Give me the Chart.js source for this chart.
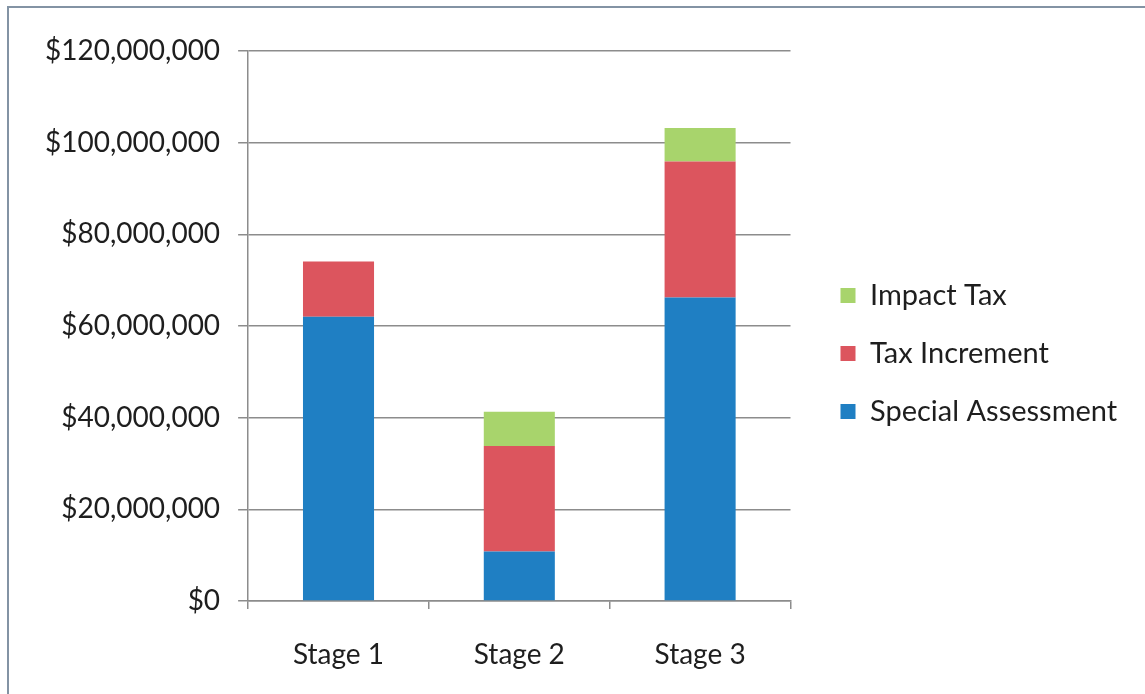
<!DOCTYPE html>
<html>
<head>
<meta charset="utf-8">
<script src="https://cdn.jsdelivr.net/npm/chart.js@4/dist/chart.umd.min.js"></script>
<style>
  html, body { margin: 0; padding: 0; background: #ffffff; }
  #frame { position: absolute; left: 7px; top: 6px; width: 1145px; height: 700px;
           border-left: 2px solid #8393a4; border-top: 2px solid #8393a4; box-sizing: border-box; }
  #wrap { position: absolute; left: 0; top: 0; width: 1145px; height: 694px; }
</style>
</head>
<body>
<div id="frame"></div>
<div id="wrap"><canvas id="c" width="1145" height="694"></canvas></div>
<script>
const categories = ["Stage 1", "Stage 2", "Stage 3"];
const specialAssessment = [62000000, 10800000, 66200000];
const taxIncrement = [12100000, 23000000, 29700000];
const impactTax = [0, 7500000, 7300000];
const yTicks = [0, 20000000, 40000000, 60000000, 80000000, 100000000, 120000000];

const FONT = "Lato, 'Open Sans', sans-serif";
const TEXT = '#1e1e1e';

const legendShift = {
  id: 'legendShift',
  afterLayout(chart) {
    const lg = chart.legend;
    if (!lg) return;
    const dx = 21, dy = -8, extra = 80;
    lg.left += dx; lg.right += dx + extra; lg.width += extra;
    lg.top += dy; lg.bottom += dy;
  }
};

new Chart(document.getElementById('c'), {
  type: 'bar',
  data: {
    labels: categories,
    datasets: [
      { label: 'Special Assessment', data: specialAssessment, backgroundColor: '#1f7fc3' },
      { label: 'Tax Increment', data: taxIncrement, backgroundColor: '#dc555e' },
      { label: 'Impact Tax', data: impactTax, backgroundColor: '#a8d46c' }
    ]
  },
  plugins: [legendShift],
  options: {
    responsive: false,
    animation: false,
    devicePixelRatio: 1,
    layout: { padding: { left: 27, top: 51, right: 100, bottom: 22 } },
    datasets: { bar: { categoryPercentage: 1.0, barPercentage: 0.393 } },
    plugins: {
      tooltip: { enabled: false },
      legend: {
        position: 'right',
        align: 'center',
        reverse: true,
        labels: {
          font: { family: FONT, size: 29 },
          color: TEXT,
          boxWidth: 15,
          boxHeight: 15,
          padding: 29
        }
      }
    },
    scales: {
      x: {
        stacked: true,
        afterFit: (s) => { s.height = 71; },
        border: { display: true, color: '#8c8c8c', width: 1.5 },
        grid: { display: true, drawOnChartArea: false, drawTicks: true, tickLength: 8, offset: true, color: '#8c8c8c', lineWidth: 1.5 },
        ticks: { font: { family: FONT, size: 28 }, color: TEXT, padding: 29 }
      },
      y: {
        stacked: true,
        min: 0,
        max: 120000000,
        afterBuildTicks: (scale) => { scale.ticks = yTicks.map(v => ({ value: v })); },
        border: { display: true, color: '#8c8c8c', width: 1.5 },
        grid: { color: '#8c8c8c', lineWidth: 1.5, tickLength: 10, drawTicks: true },
        ticks: {
          font: { family: FONT, size: 28 },
          color: TEXT,
          padding: 18,
          callback: (v) => '$' + Number(v).toLocaleString('en-US')
        }
      }
    }
  }
});
</script>
</body>
</html>
